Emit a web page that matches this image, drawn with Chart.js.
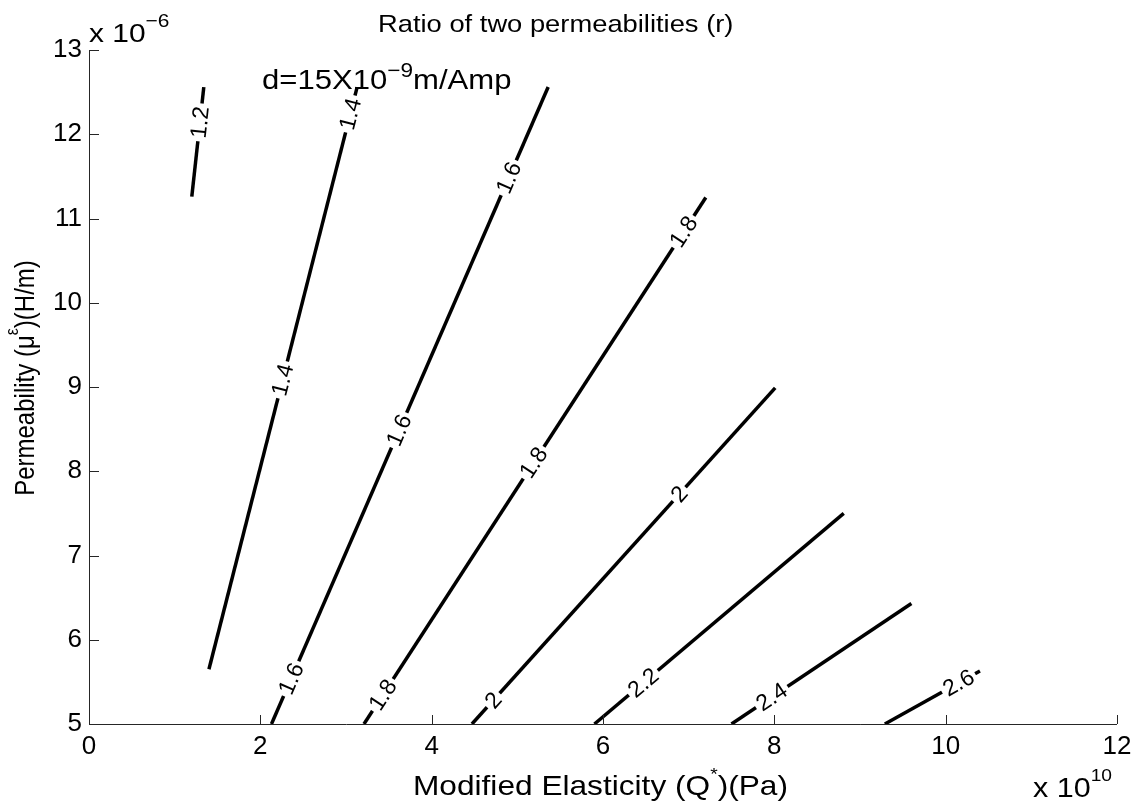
<!DOCTYPE html>
<html>
<head>
<meta charset="utf-8">
<title>Ratio of two permeabilities (r)</title>
<script src="https://cdn.jsdelivr.net/npm/chart.js@4.4.1/dist/chart.umd.min.js"></script>
<style>
  html, body { margin: 0; padding: 0; background: #fff; }
  canvas { display: block; }
</style>
</head>
<body>
<canvas id="ratioContours" width="1138" height="803"></canvas>
<script>
// contour levels of r; every contour is a straight segment (Q in 1e10 Pa, mu in 1e-6 H/m)
var levels  = ['1.2', '1.4', '1.6', '1.8', '2', '2.2', '2.4', '2.6'];
var startQ  = [1.20, 1.40, 2.13, 3.21, 4.47, 5.90, 7.50, 9.29];
var startMu = [11.26, 5.65, 5.00, 5.00, 5.00, 5.00, 5.00, 5.00];
var endQ    = [1.34, 3.13, 5.36, 7.20, 8.01, 8.81, 9.60, 10.40];
var endMu   = [12.56, 12.56, 12.56, 11.25, 8.99, 7.50, 6.43, 5.63];

// clabel positions: index of the contour and the Q value the label sits at
var labelLine = [0, 1, 1, 2, 2, 2, 3, 3, 3, 4, 4, 5, 6, 7];
var labelQ    = [1.295, 2.26, 3.05, 2.36, 3.62, 4.90, 3.43, 5.19, 6.94, 4.72, 6.89, 6.47, 7.97, 10.15];

var xTicks = [0, 2, 4, 6, 8, 10, 12];
var yTicks = [5, 6, 7, 8, 9, 10, 11, 12, 13];

var FONT = '"Liberation Sans", Arial, Helvetica, sans-serif';
var SX = 1.13; // figure text runs a little wide

// draws a run of [text, size, rise] pieces, so superscripts sit inline
function drawParts(ctx, parts, x, y, align, vertical) {
    var total = 0;
    parts.forEach(function (p) {
        ctx.font = p[1] + 'px ' + FONT;
        total += ctx.measureText(p[0]).width;
    });
    ctx.save();
    ctx.translate(x, y);
    if (vertical) {
        ctx.rotate(-Math.PI / 2);
        ctx.scale(1, SX);
    } else {
        ctx.scale(SX, 1);
    }
    ctx.fillStyle = '#000';
    ctx.textAlign = 'left';
    ctx.textBaseline = 'alphabetic';
    var cx = align === 'center' ? -total / 2 : 0;
    parts.forEach(function (p) {
        ctx.font = p[1] + 'px ' + FONT;
        ctx.fillText(p[0], cx, -(p[2] || 0));
        cx += ctx.measureText(p[0]).width;
    });
    ctx.restore();
}

// left and bottom axis lines with inward tick marks
var axesPlugin = {
    id: 'matlabAxes',
    afterDraw: function (chart) {
        var ctx = chart.ctx, a = chart.chartArea;
        var xs = chart.scales.x, ys = chart.scales.y;
        ctx.save();
        ctx.strokeStyle = '#262626';
        ctx.lineWidth = 1;
        ctx.beginPath();
        ctx.moveTo(a.left + 0.5, a.top);
        ctx.lineTo(a.left + 0.5, a.bottom + 0.5);
        ctx.lineTo(a.right, a.bottom + 0.5);
        xTicks.forEach(function (v) {
            var px = Math.round(xs.getPixelForValue(v)) + 0.5;
            ctx.moveTo(px, a.bottom);
            ctx.lineTo(px, a.bottom - 9);
        });
        yTicks.forEach(function (v) {
            var py = Math.round(ys.getPixelForValue(v)) + 0.5;
            ctx.moveTo(a.left, py);
            ctx.lineTo(a.left + 10, py);
        });
        ctx.stroke();
        ctx.restore();
    }
};

// inline contour labels that break the line
var clabelPlugin = {
    id: 'clabels',
    afterDatasetsDraw: function (chart) {
        var ctx = chart.ctx, xs = chart.scales.x, ys = chart.scales.y;
        labelLine.forEach(function (li, k) {
            var t = (labelQ[k] - startQ[li]) / (endQ[li] - startQ[li]);
            var mu = startMu[li] + t * (endMu[li] - startMu[li]);
            var px = xs.getPixelForValue(labelQ[k]);
            var py = ys.getPixelForValue(mu);
            var ang = Math.atan2(ys.getPixelForValue(endMu[li]) - ys.getPixelForValue(startMu[li]),
                                 xs.getPixelForValue(endQ[li]) - xs.getPixelForValue(startQ[li]));
            ctx.save();
            ctx.font = '23px ' + FONT;
            var w = ctx.measureText(levels[li]).width;
            ctx.translate(px, py);
            ctx.rotate(ang);
            ctx.fillStyle = '#fff';
            ctx.fillRect(-w / 2 - 3, -7, w + 6, 14);
            ctx.fillStyle = '#000';
            ctx.textAlign = 'center';
            ctx.textBaseline = 'middle';
            ctx.fillText(levels[li], 0, 1);
            ctx.restore();
        });
    }
};

// title, axis labels, exponents and the d annotation
var textPlugin = {
    id: 'figureText',
    afterDraw: function (chart) {
        var ctx = chart.ctx;
        drawParts(ctx, [['Ratio of two permeabilities (r)', 24.2]], 378, 32, 'left');
        drawParts(ctx, [['x 10', 26.5], ['\u22126', 18.5, 15]], 89, 42, 'left');
        drawParts(ctx, [['x 10', 27], ['10', 17, 16]], 1033, 797, 'left');
        drawParts(ctx, [['d=15X10', 27.5], ['\u22129', 20, 12], ['m/Amp', 27.5]], 262, 89, 'left');
        drawParts(ctx, [['Modified Elasticity (Q', 28], ['*', 17, 15], [')(Pa)', 28]], 413, 795, 'left');
        drawParts(ctx, [['Permeability (\u03bc', 24], ['\u03b5', 16, 14], [')(H/m)', 24]], 34, 378, 'center', true);
    }
};

var datasets = levels.map(function (lv, i) {
    return {
        label: lv,
        data: [{ x: startQ[i], y: startMu[i] }, { x: endQ[i], y: endMu[i] }],
        showLine: true,
        borderColor: '#000',
        borderWidth: 3.5,
        pointRadius: 0,
        fill: false
    };
});

var tickFont = { family: FONT, size: 26 };

var ctx1 = document.getElementById('ratioContours').getContext('2d');
var contourChart = new Chart(ctx1, {
    type: 'scatter',
    data: { datasets: datasets },
    options: {
        responsive: false,
        animation: false,
        layout: { padding: { left: 0, top: 50, right: 21, bottom: 0 } },
        plugins: {
            legend: { display: false },
            tooltip: { enabled: false }
        },
        scales: {
            x: {
                type: 'linear',
                min: 0,
                max: 12,
                afterBuildTicks: function (s) { s.ticks = xTicks.map(function (v) { return { value: v }; }); },
                afterFit: function (s) { s.height = 79; s.paddingLeft = 0; s.paddingRight = 0; },
                ticks: { font: tickFont, color: '#000', padding: 7, maxRotation: 0, autoSkip: false },
                grid: { display: false, drawTicks: false },
                border: { display: false }
            },
            y: {
                type: 'linear',
                min: 5,
                max: 13,
                afterBuildTicks: function (s) { s.ticks = yTicks.map(function (v) { return { value: v }; }); },
                afterFit: function (s) { s.width = 89; s.paddingTop = 0; s.paddingBottom = 0; },
                ticks: { font: tickFont, color: '#000', padding: 7, autoSkip: false },
                grid: { display: false, drawTicks: false },
                border: { display: false }
            }
        }
    },
    plugins: [clabelPlugin, axesPlugin, textPlugin]
});
</script>
</body>
</html>
